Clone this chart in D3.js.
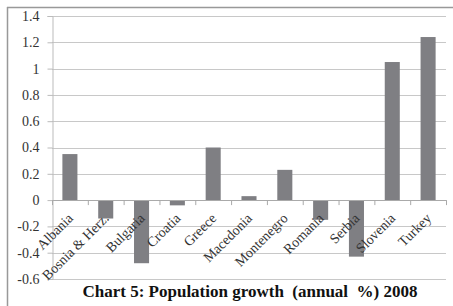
<!DOCTYPE html>
<html>
<head>
<meta charset="utf-8">
<script src="https://cdn.jsdelivr.net/npm/d3@7"></script>
<style>
  body { margin: 0; background: #fff; }
  svg text { font-family: "Liberation Serif", "Times New Roman", serif; }
</style>
</head>
<body>
<div id="chart"></div>
<script>
// countries and their 2008 population growth (annual %)
const countries = ["Albania", "Bosnia & Herz.", "Bulgaria", "Croatia", "Greece", "Macedonia",
                   "Montenegro", "Romania", "Serbia", "Slovenia", "Turkey"];
const growth = [0.35, -0.14, -0.48, -0.04, 0.40, 0.03, 0.23, -0.15, -0.43, 1.05, 1.24];
const yTicks = [-0.6, -0.4, -0.2, 0, 0.2, 0.4, 0.6, 0.8, 1, 1.2, 1.4];

const width = 453, height = 306;
const svg = d3.select("#chart").append("svg")
    .attr("width", width)
    .attr("height", height);

// outer frame (only top and left visible in the crop)
svg.append("line").attr("x1", 7).attr("x2", width).attr("y1", 7.5).attr("y2", 7.5)
    .attr("stroke", "#999").attr("stroke-width", 1.5);
svg.append("line").attr("x1", 7.5).attr("x2", 7.5).attr("y1", 7).attr("y2", height)
    .attr("stroke", "#999").attr("stroke-width", 1.5);

const x = d3.scaleBand()
    .domain(countries)
    .range([52, 446])
    .paddingInner(0.58)
    .paddingOuter(0.29);

const y = d3.scaleLinear()
    .domain([-0.6, 1.4])
    .range([279, 16]);

// gridlines
svg.append("g")
    .selectAll("line")
    .data(yTicks)
    .join("line")
    .attr("x1", 52)
    .attr("x2", 446)
    .attr("y1", d => Math.round(y(d)) + 0.5)
    .attr("y2", d => Math.round(y(d)) + 0.5)
    .attr("stroke", "#c8c8c8")
    .attr("stroke-width", 1.2);

// y axis
const fmt = d => (d < 0 ? "-" : "") + String(Math.abs(+d.toFixed(1)));
const yAxis = svg.append("g")
    .attr("transform", "translate(52.5,0)")
    .call(d3.axisLeft(y).tickValues(yTicks).tickSize(5).tickPadding(8).tickFormat(fmt));
yAxis.attr("font-family", null).attr("font-size", null);
yAxis.select(".domain").attr("stroke", "#bbb");
yAxis.selectAll(".tick line").attr("stroke", "#bbb");
yAxis.selectAll("text")
    .style("font-size", "14px")
    .attr("fill", "#333");

// bars
svg.append("g")
    .selectAll("rect")
    .data(countries)
    .join("rect")
    .attr("x", d => x(d))
    .attr("width", x.bandwidth())
    .attr("y", (d, i) => y(Math.max(0, growth[i])))
    .attr("height", (d, i) => Math.abs(y(growth[i]) - y(0)))
    .attr("fill", "#7f7f83");

// x axis at zero
const xAxis = svg.append("g");
xAxis.append("line")
    .attr("x1", 52).attr("x2", 446)
    .attr("y1", Math.round(y(0)) + 0.5).attr("y2", Math.round(y(0)) + 0.5)
    .attr("stroke", "#aaa").attr("stroke-width", 1.2);
xAxis.selectAll(".xtick")
    .data(d3.range(countries.length + 1))
    .join("line")
    .attr("class", "xtick")
    .attr("x1", i => 52.5 + i * x.step())
    .attr("x2", i => 52.5 + i * x.step())
    .attr("y1", y(0))
    .attr("y2", y(0) + 5)
    .attr("stroke", "#aaa");

xAxis.selectAll(".xlabel")
    .data(countries)
    .join("text")
    .attr("class", "xlabel")
    .attr("transform", d => `translate(${x(d) + x.bandwidth() / 2 + 4},${y(0) + 19}) rotate(-45)`)
    .attr("text-anchor", "end")
    .style("font-size", "14px")
    .attr("fill", "#333")
    .text(d => d);

// title
svg.append("text")
    .attr("x", 250)
    .attr("y", 297)
    .attr("text-anchor", "middle")
    .style("font-size", "17px")
    .style("font-weight", "bold")
    .attr("fill", "#111")
    .attr("xml:space", "preserve")
    .text("Chart 5: Population growth  (annual  %) 2008");
</script>
</body>
</html>
